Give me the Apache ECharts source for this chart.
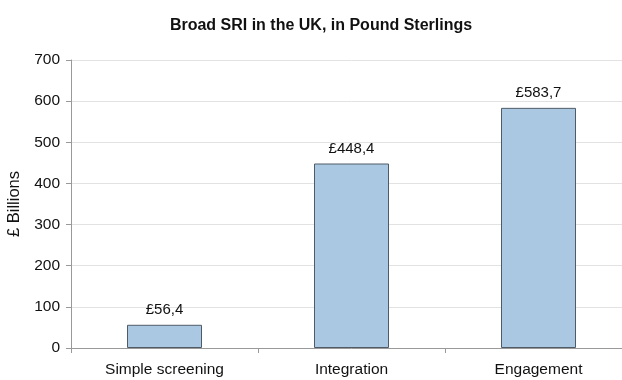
<!DOCTYPE html>
<html>
<head>
<meta charset="utf-8">
<script src="https://cdn.jsdelivr.net/npm/echarts@6/dist/echarts.min.js"></script>
<style>
  html, body { margin: 0; padding: 0; background: #fff; overflow: hidden; }
  #chart { width: 642px; height: 380px; }
</style>
</head>
<body>
<div id="chart"></div>
<script>
var categories = ["Simple screening", "Integration", "Engagement"];
var values = [56.4, 448.4, 583.7];
var valueLabels = ["£56,4", "£448,4", "£583,7"];

// the plot runs past the right edge of the 622px window, as in the source image
var myChart = echarts.init(document.getElementById("chart"));
var font = "Liberation Sans, Arial, sans-serif";

var option = {
    animation: false,
    title: {
        text: "Broad SRI in the UK, in Pound Sterlings",
        left: "center",
        top: 13,
        textStyle: { fontFamily: font, fontSize: 16, fontWeight: "bold", color: "#111" }
    },
    grid: { left: 71, top: 60, right: 10, bottom: 32, containLabel: false, outerBoundsMode: "none" },
    xAxis: {
        type: "category",
        data: categories,
        axisLine: { lineStyle: { color: "#999", width: 1 } },
        axisTick: { show: true, length: 5, lineStyle: { color: "#999" } },
        axisLabel: { fontFamily: font, fontSize: 15.5, color: "#111", margin: 14 }
    },
    yAxis: {
        type: "value",
        min: 0,
        max: 700,
        interval: 100,
        name: "£ Billions",
        nameLocation: "middle",
        nameGap: 45,
        nameTextStyle: { fontFamily: font, fontSize: 16.5, color: "#111" },
        axisLine: { show: true, lineStyle: { color: "#999" } },
        axisTick: { show: true, length: 5, lineStyle: { color: "#999" } },
        axisLabel: { fontFamily: font, fontSize: 15.5, color: "#111", margin: 11 },
        splitLine: { lineStyle: { color: "#e2e2e2" } }
    },
    series: [{
        type: "bar",
        data: values,
        barWidth: 75,
        itemStyle: { color: "#abc8e2", borderColor: "#4f5c68", borderWidth: 1 },
        label: {
            show: true,
            position: "top",
            distance: 7,
            fontFamily: font,
            fontSize: 15,
            color: "#111",
            formatter: function (p) { return valueLabels[p.dataIndex]; }
        }
    }]
};

myChart.setOption(option);
</script>
</body>
</html>
